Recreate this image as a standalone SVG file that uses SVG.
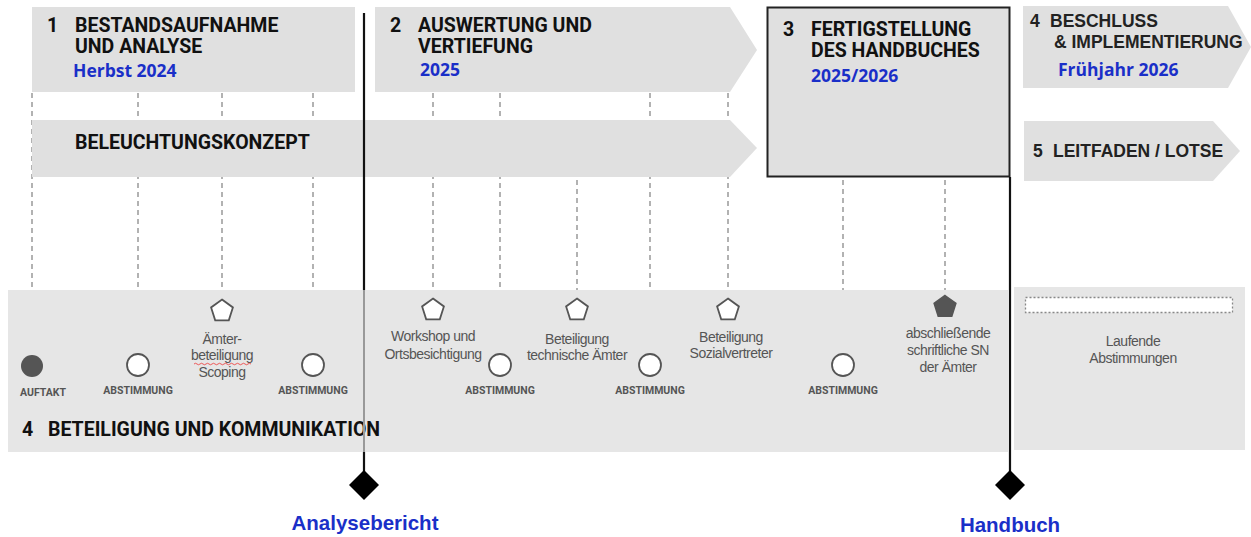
<svg xmlns="http://www.w3.org/2000/svg" width="1251" height="537" viewBox="0 0 1251 537">
<style>
.box{fill:#e0e0e0}
.band{fill:#e6e6e6}
.hd{font-family:Roboto,"Liberation Sans",sans-serif;font-weight:700;font-size:19.5px;fill:#111}
.hd2{font-family:"Liberation Sans",Arial,sans-serif;font-weight:700;font-size:17.5px;fill:#222}
.yr{font-family:"Open Sans","Liberation Sans",sans-serif;font-weight:700;font-size:17.5px;fill:#1a2fc8}
.ms{font-family:"Liberation Sans",Arial,sans-serif;font-weight:700;font-size:20.5px;fill:#1a2fc8}
.dash{stroke:#999;stroke-width:1.5;stroke-dasharray:5 4;fill:none}
.lbl{font-family:Roboto,"Liberation Sans",sans-serif;font-weight:700;font-size:10.5px;fill:#555;text-anchor:middle}
.txt{font-family:"Liberation Sans",Arial,sans-serif;font-size:14px;fill:#555;text-anchor:middle;letter-spacing:-0.5px}
.circ{fill:#fff;stroke:#555;stroke-width:1.8}
.pent{fill:#fff;stroke:#555;stroke-width:1.8}
.ms-line{stroke:#111;stroke-width:2.2;fill:none}
</style>
<defs>
<polygon id="pg" points="0,-11.5 10.9,-3.6 6.8,9.3 -6.8,9.3 -10.9,-3.6"/>
</defs>

<!-- dashed connectors -->
<g id="connectors">
<line class="dash" x1="32" y1="93" x2="32" y2="355"/>
<line class="dash" x1="138" y1="93" x2="138" y2="353"/>
<line class="dash" x1="222" y1="93" x2="222" y2="299"/>
<line class="dash" x1="313" y1="93" x2="313" y2="353"/>
<line class="dash" x1="433" y1="93" x2="433" y2="298"/>
<line class="dash" x1="500" y1="93" x2="500" y2="353"/>
<line class="dash" x1="577" y1="180" x2="577" y2="298"/>
<line class="dash" x1="650" y1="93" x2="650" y2="353"/>
<line class="dash" x1="728" y1="93" x2="728" y2="298"/>
<line class="dash" x1="843" y1="180" x2="843" y2="353"/>
<line class="dash" x1="945" y1="180" x2="945" y2="295"/>
</g>

<!-- phase boxes -->
<g id="phase1">
<rect class="box" x="32" y="7" width="323" height="85"/>
<text class="hd" x="47" y="32">1</text>
<text class="hd" x="75" y="32">BESTANDSAUFNAHME</text>
<text class="hd" x="75" y="53">UND ANALYSE</text>
<text class="yr" x="73" y="77">Herbst 2024</text>
</g>
<g id="phase2">
<polygon class="box" points="375,7 730,7 757,50 730,92 375,92"/>
<text class="hd" x="390" y="32">2</text>
<text class="hd" x="418" y="32">AUSWERTUNG UND</text>
<text class="hd" x="418" y="53">VERTIEFUNG</text>
<text class="yr" x="420" y="76">2025</text>
</g>
<g id="beleuchtung">
<polygon class="box" points="32,120 730,120 757,148 730,177 32,177"/>
<text class="hd" x="75" y="149">BELEUCHTUNGSKONZEPT</text>
</g>
<g id="phase3">
<rect class="box" x="767.5" y="7.5" width="242" height="169" stroke="#222" stroke-width="2"/>
<text class="hd" x="783" y="36">3</text>
<text class="hd" x="811" y="36">FERTIGSTELLUNG</text>
<text class="hd" x="811" y="57">DES HANDBUCHES</text>
<text class="yr" x="811" y="82">2025/2026</text>
</g>
<g id="phase4">
<polygon class="box" points="1023,6 1228,6 1251,47 1228,88 1023,88"/>
<text class="hd2" x="1030" y="27">4</text>
<text class="hd2" x="1050" y="27">BESCHLUSS</text>
<text class="hd2" x="1054" y="48">&amp; IMPLEMENTIERUNG</text>
<text class="yr" x="1058" y="76">Frühjahr 2026</text>
</g>
<g id="phase5">
<polygon class="box" points="1024,121 1213,121 1240,151 1213,181 1024,181"/>
<text class="hd2" x="1033" y="157">5</text>
<text class="hd2" x="1053" y="157">LEITFADEN / LOTSE</text>
</g>

<!-- participation band -->
<g id="beteiligung">
<rect class="band" x="8" y="290" width="1000" height="162"/>
<text class="hd" x="22" y="436">4</text>
<text class="hd" x="48" y="436">BETEILIGUNG UND KOMMUNIKATION</text>
</g>
<g id="laufend">
<rect class="band" x="1014" y="287" width="231" height="163"/>
<rect x="1025.5" y="297.5" width="207" height="15" fill="#fff" stroke="#888" stroke-width="1.3" stroke-dasharray="2 2"/>
<text class="txt" x="1133" y="346">Laufende</text>
<text class="txt" x="1133" y="363">Abstimmungen</text>
</g>

<!-- milestone lines -->
<g id="milestone-lines">
<line class="ms-line" x1="364" y1="13" x2="364" y2="290"/>
<line x1="364" y1="290" x2="364" y2="452" stroke="#999" stroke-width="2"/>
<line class="ms-line" x1="364" y1="452" x2="364" y2="480"/>
<line class="ms-line" x1="1010" y1="177" x2="1010" y2="480"/>
</g>

<g id="auftakt">
<circle cx="32" cy="366" r="11" fill="#555"/>
<text class="lbl" x="43" y="396">AUFTAKT</text>
</g>
<g id="abst1">
<circle class="circ" cx="138" cy="365" r="11"/>
<text class="lbl" x="138" y="394">ABSTIMMUNG</text>
</g>
<g id="aemter">
<use href="#pg" x="222" y="311" class="pent"/>
<text class="txt" x="222" y="344">Ämter-</text>
<text class="txt" x="222" y="360">beteiligung</text>
<text class="txt" x="222" y="377">Scoping</text>
<path d="M194,364 q1.5,-1.5 3,0 t3,0 t3,0 t3,0 t3,0 t3,0 t3,0 t3,0 t3,0 t3,0 t3,0 t3,0 t3,0 t3,0 t3,0 t3,0 t3,0 t3,0 t3,0" fill="none" stroke="#e33" stroke-width="0.8"/>
</g>
<g id="abst2">
<circle class="circ" cx="313" cy="365" r="11"/>
<text class="lbl" x="313" y="394">ABSTIMMUNG</text>
</g>
<g id="workshop">
<use href="#pg" x="433" y="310" class="pent"/>
<text class="txt" x="433" y="341">Workshop und</text>
<text class="txt" x="433" y="359">Ortsbesichtigung</text>
</g>
<g id="abst3">
<circle class="circ" cx="500" cy="365" r="11"/>
<text class="lbl" x="500" y="394">ABSTIMMUNG</text>
</g>
<g id="technisch">
<use href="#pg" x="577" y="310" class="pent"/>
<text class="txt" x="577" y="344">Beteiligung</text>
<text class="txt" x="577" y="360">technische Ämter</text>
</g>
<g id="abst4">
<circle class="circ" cx="650" cy="365" r="11"/>
<text class="lbl" x="650" y="394">ABSTIMMUNG</text>
</g>
<g id="sozial">
<use href="#pg" x="728" y="310" class="pent"/>
<text class="txt" x="731" y="342">Beteiligung</text>
<text class="txt" x="731" y="358">Sozialvertreter</text>
</g>
<g id="abst5">
<circle class="circ" cx="843" cy="365" r="11"/>
<text class="lbl" x="843" y="394">ABSTIMMUNG</text>
</g>
<g id="sn">
<use href="#pg" x="945" y="307" fill="#555" stroke="#555" stroke-width="1.5"/>
<text class="txt" x="948" y="338">abschließende</text>
<text class="txt" x="948" y="355">schriftliche SN</text>
<text class="txt" x="948" y="372">der Ämter</text>
</g>

<g id="analysebericht">
<polygon points="364,470 379,485 364,500 349,485" fill="#000"/>
<text class="ms" x="365" y="530" text-anchor="middle">Analysebericht</text>
</g>
<g id="handbuch">
<polygon points="1010,470 1025,485 1010,500 995,485" fill="#000"/>
<text class="ms" x="1010" y="532" text-anchor="middle">Handbuch</text>
</g>
</svg>
